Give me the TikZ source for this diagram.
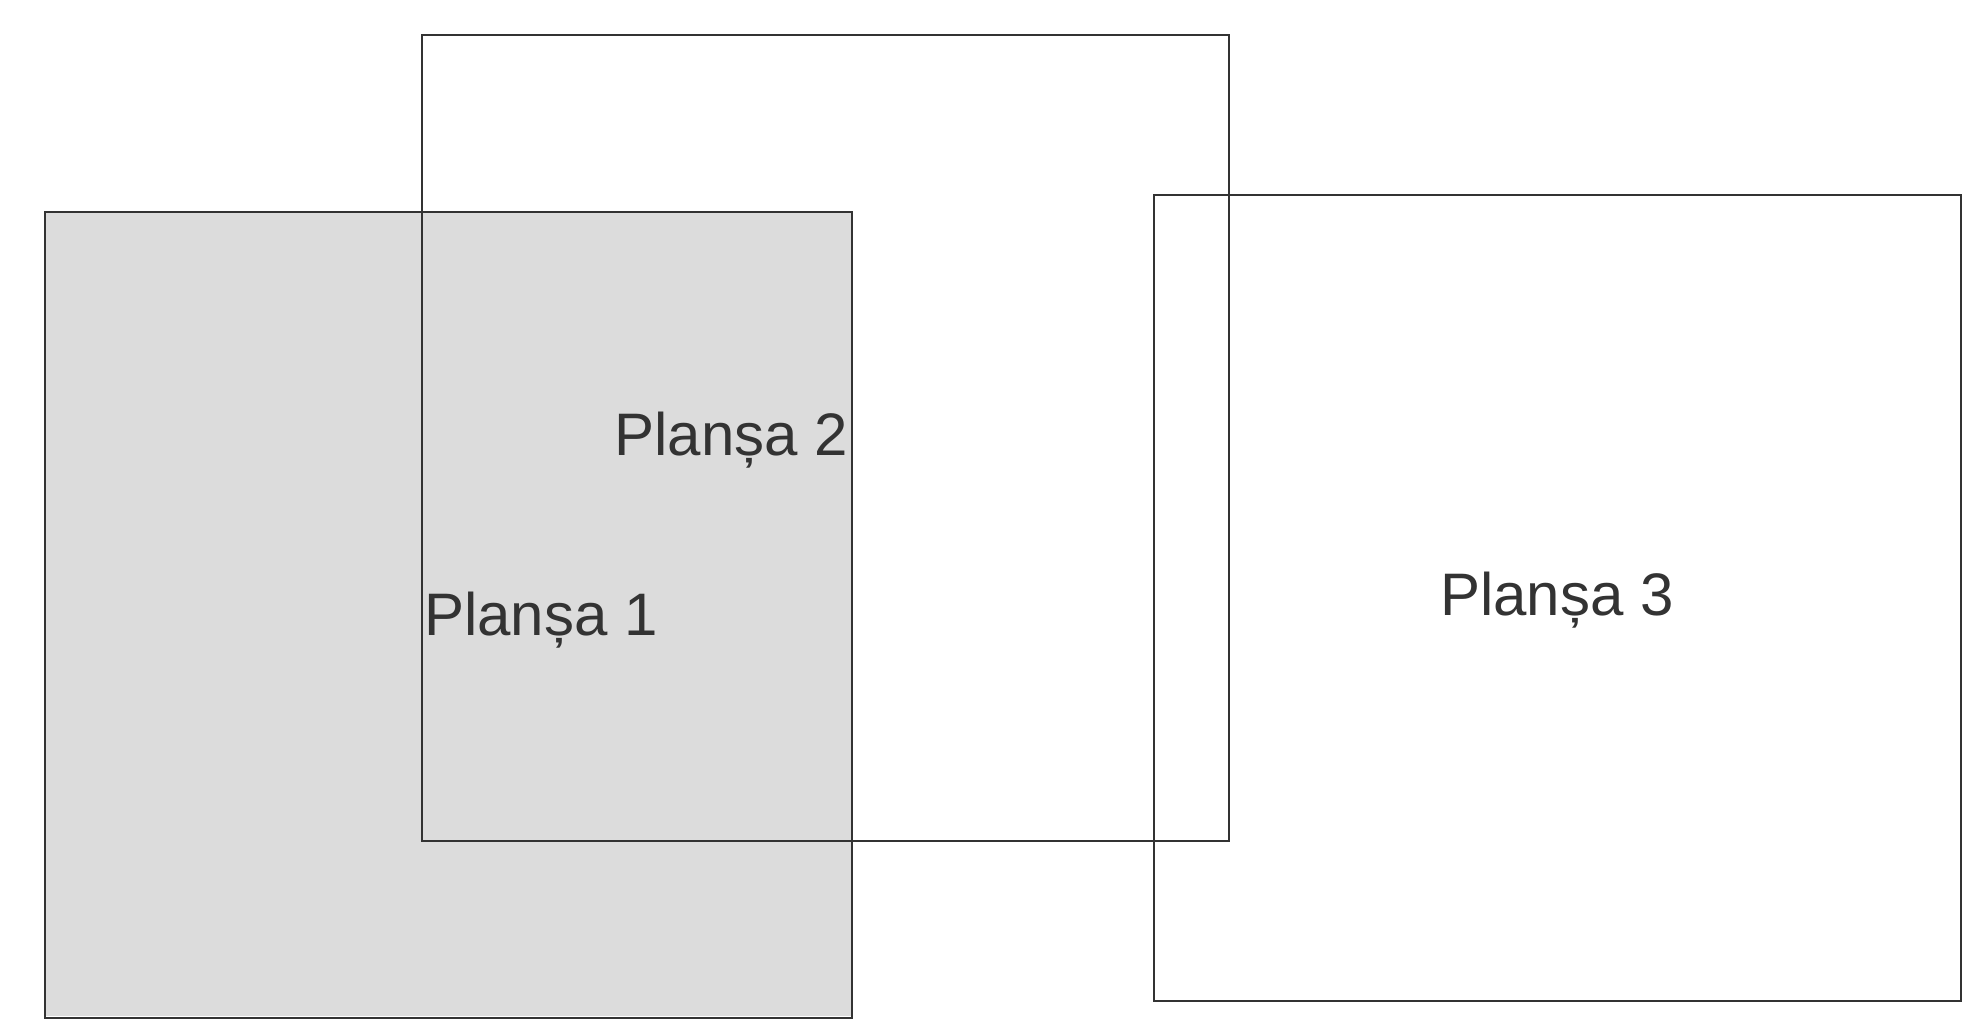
\documentclass[tikz,border=0pt]{standalone}
\usepackage{fontspec}
\setmainfont{Liberation Sans}
\definecolor{edgecol}{HTML}{333333}
\definecolor{sheetgray}{HTML}{DCDCDC}
\begin{document}
\begin{tikzpicture}[x=1pt,y=-1pt,
  sheet/.style={draw=edgecol,line width=2.4pt,minimum width=807pt,minimum height=806pt,inner sep=0pt,anchor=north west},
  lbl/.style={text=edgecol,inner sep=0pt,font=\fontsize{60}{70}\selectfont}]
\useasboundingbox (0,0) rectangle (1978,1018);
\fill[fill=sheetgray] (44,211) rectangle (851,1016);
\node[sheet] (s1) at (44,211) {};
\node[sheet] (s2) at (421,34) {};
\node[sheet] (s3) at (1153,194) {};
\node[lbl,anchor=base west] (t1) at (424,635) {Planșa 1};
\node[lbl,anchor=base east] (t2) at (848,455) {Planșa 2};
\node[lbl,anchor=base] (t3) at (1557,615) {Planșa 3};
\end{tikzpicture}
\end{document}
